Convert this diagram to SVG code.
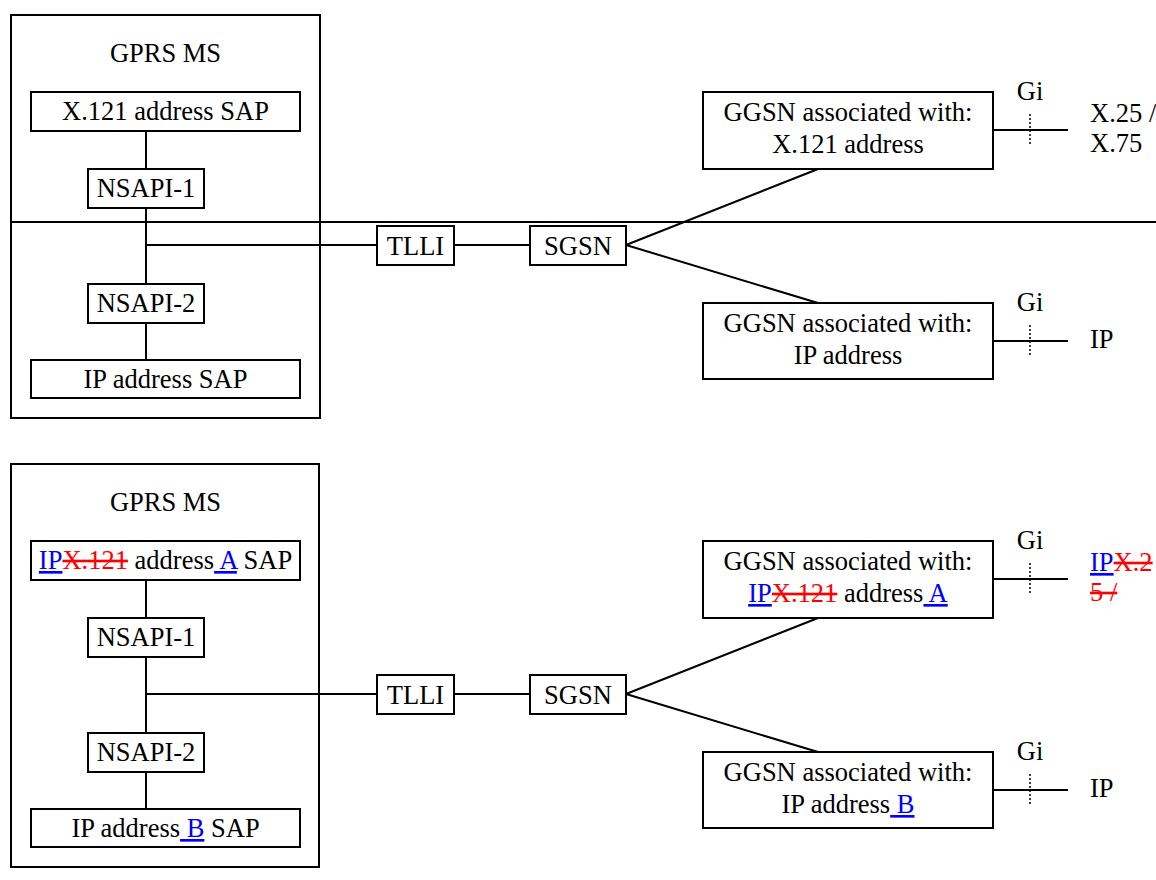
<svg xmlns="http://www.w3.org/2000/svg" width="1156" height="880" viewBox="0 0 1156 880">
<style>
rect{fill:#fff;stroke:#000;stroke-width:2}
text{font-family:"Liberation Serif","Times New Roman",serif;font-size:26.5px;fill:#000}
.c{text-anchor:middle}
.ln{stroke:#000;stroke-width:2;fill:none}
.dot{stroke:#000;stroke-width:1.5;stroke-dasharray:2,2;fill:none}
.ins{fill:#0000FF;text-decoration:underline}
.del{fill:#FF0000;text-decoration:line-through}
</style>
<rect x="0" y="0" width="1156" height="880" style="stroke:none"/>
<g id="ms1"><rect x="11" y="15" width="309" height="403"/><text class="c" x="165.5" y="62">GPRS MS</text></g>
<g id="ms2"><rect x="11" y="464" width="308" height="403"/><text class="c" x="165.5" y="511">GPRS MS</text></g>
<g id="connectors">
<path class="ln" d="M146 131V169M146 208V284M146 323V360M11 222H1156M146 245H377M454 245H530M626 245L818 169M626 245L818 303M993 130H1068M993 341H1068"/>
<path class="dot" d="M1030 114V146M1030 325V357"/>
<path class="ln" d="M146 580V618M146 657V733M146 772V809M146 694H377M454 694H530M626 694L818 618M626 694L818 752M993 579H1068M993 790H1068"/>
<path class="dot" d="M1030 563V595M1030 774V806"/>
</g>
<g id="sap1"><rect x="31" y="92" width="269" height="39"/><text class="c" x="165.5" y="120">X.121 address SAP</text></g>
<g id="nsapi1a"><rect x="88" y="169" width="116" height="39"/><text class="c" x="146" y="197">NSAPI-1</text></g>
<g id="nsapi2a"><rect x="88" y="284" width="116" height="39"/><text class="c" x="146" y="312">NSAPI-2</text></g>
<g id="sap2"><rect x="31" y="360" width="269" height="38"/><text class="c" x="165.5" y="388">IP address SAP</text></g>
<g id="tlli1"><rect x="377" y="226" width="77" height="39"/><text class="c" x="415.5" y="255">TLLI</text></g>
<g id="sgsn1"><rect x="530" y="226" width="96" height="39"/><text class="c" x="578" y="255">SGSN</text></g>
<g id="ggsn1"><rect x="703" y="92" width="290" height="77"/><text class="c" x="848" y="121">GGSN associated with:</text><text class="c" x="848" y="153">X.121 address</text></g>
<g id="ggsn2"><rect x="703" y="303" width="290" height="76"/><text class="c" x="848" y="332">GGSN associated with:</text><text class="c" x="848" y="364">IP address</text></g>
<g id="gi1"><text class="c" x="1030" y="100">Gi</text><text x="1090" y="122">X.25 /</text><text x="1090" y="152">X.75</text></g>
<g id="gi2"><text class="c" x="1030" y="311">Gi</text><text x="1090" y="348">IP</text></g>
<g id="sap1b"><rect x="31" y="541" width="269" height="39"/><text class="c" x="165.5" y="569"><tspan class="ins">IP</tspan><tspan class="del">X.121</tspan> address<tspan class="ins"> A</tspan> SAP</text></g>
<g id="nsapi1b"><rect x="88" y="618" width="116" height="39"/><text class="c" x="146" y="646">NSAPI-1</text></g>
<g id="nsapi2b"><rect x="88" y="733" width="116" height="39"/><text class="c" x="146" y="761">NSAPI-2</text></g>
<g id="sap2b"><rect x="31" y="809" width="269" height="38"/><text class="c" x="165.5" y="837">IP address<tspan class="ins"> B</tspan> SAP</text></g>
<g id="tlli2"><rect x="377" y="675" width="77" height="39"/><text class="c" x="415.5" y="704">TLLI</text></g>
<g id="sgsn2"><rect x="530" y="675" width="96" height="39"/><text class="c" x="578" y="704">SGSN</text></g>
<g id="ggsn1b"><rect x="703" y="541" width="290" height="77"/><text class="c" x="848" y="570">GGSN associated with:</text><text class="c" x="848" y="602"><tspan class="ins">IP</tspan><tspan class="del">X.121</tspan> address<tspan class="ins"> A</tspan></text></g>
<g id="ggsn2b"><rect x="703" y="752" width="290" height="76"/><text class="c" x="848" y="781">GGSN associated with:</text><text class="c" x="848" y="813">IP address<tspan class="ins"> B</tspan></text></g>
<g id="gi1b"><text class="c" x="1030" y="549">Gi</text><text x="1090" y="571"><tspan class="ins">IP</tspan><tspan class="del">X.2</tspan></text><text x="1090" y="601"><tspan class="del">5 /</tspan></text></g>
<g id="gi2b"><text class="c" x="1030" y="760">Gi</text><text x="1090" y="797">IP</text></g>
</svg>
